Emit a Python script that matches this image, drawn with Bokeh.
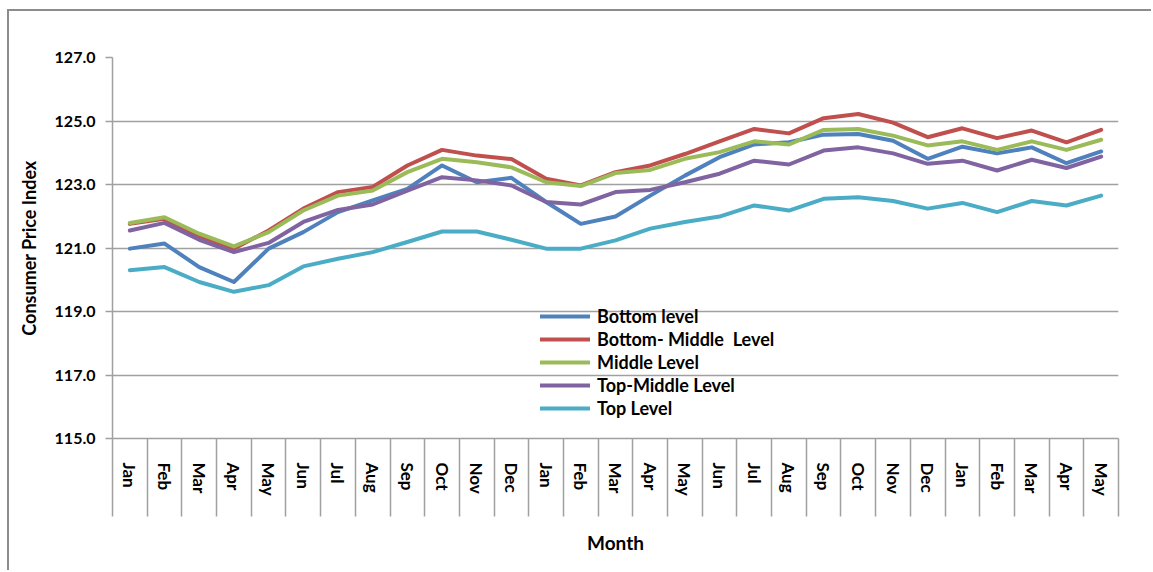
from bokeh.plotting import figure
from bokeh.models import FixedTicker, Range1d, Legend, LegendItem, ColumnDataSource, PrintfTickFormatter
from bokeh.embed import file_html
from bokeh.resources import INLINE

months = ["Jan", "Feb", "Mar", "Apr", "May", "Jun", "Jul", "Aug", "Sep", "Oct", "Nov", "Dec",
          "Jan", "Feb", "Mar", "Apr", "May", "Jun", "Jul", "Aug", "Sep", "Oct", "Nov", "Dec",
          "Jan", "Feb", "Mar", "Apr", "May"]

bottom_level = [120.98, 121.14, 120.40, 119.93, 120.98, 121.50, 122.13, 122.50, 122.86, 123.60, 123.07, 123.21,
                122.45, 121.76, 121.99, 122.65, 123.28, 123.86, 124.26, 124.33, 124.57, 124.59, 124.38, 123.81,
                124.19, 123.98, 124.17, 123.67, 124.04]
bottom_middle_level = [121.76, 121.92, 121.35, 120.98, 121.55, 122.24, 122.76, 122.92, 123.60, 124.09, 123.91, 123.80,
                       123.18, 122.97, 123.39, 123.60, 123.96, 124.36, 124.75, 124.61, 125.09, 125.22, 124.95, 124.49,
                       124.77, 124.46, 124.70, 124.33, 124.72]
middle_level = [121.79, 121.97, 121.45, 121.05, 121.50, 122.18, 122.65, 122.81, 123.39, 123.81, 123.70, 123.54,
                123.07, 122.95, 123.36, 123.46, 123.81, 124.02, 124.36, 124.26, 124.72, 124.75, 124.54, 124.23,
                124.36, 124.09, 124.36, 124.09, 124.41]
top_middle_level = [121.55, 121.79, 121.26, 120.87, 121.16, 121.82, 122.20, 122.37, 122.81, 123.23, 123.13, 122.97,
                    122.45, 122.37, 122.76, 122.83, 123.07, 123.34, 123.75, 123.63, 124.07, 124.17, 123.98, 123.65,
                    123.75, 123.44, 123.78, 123.52, 123.88]
top_level = [120.30, 120.40, 119.93, 119.62, 119.83, 120.42, 120.66, 120.87, 121.19, 121.52, 121.52, 121.26,
             120.98, 120.98, 121.24, 121.61, 121.82, 121.99, 122.34, 122.18, 122.55, 122.60, 122.48, 122.24,
             122.42, 122.13, 122.48, 122.34, 122.65]

series_names = ["Bottom level", "Bottom- Middle  Level", "Middle Level", "Top-Middle Level", "Top Level"]
series_values = [bottom_level, bottom_middle_level, middle_level, top_middle_level, top_level]
series_colors = ["#4F81BD", "#C0504D", "#9BBB59", "#8064A2", "#4BACC6"]

y_ticks = [115, 117, 119, 121, 123, 125, 127]
x_title = "Month"
y_title = "Consumer Price Index"

FONT = "Lato"
GRAY = "#a0a0a0"

xs = list(range(len(months)))

p = figure(width=1144, height=561, output_backend="svg", toolbar_location=None,
           x_range=Range1d(-0.5, len(months) - 0.5), y_range=Range1d(115, 127),
           min_border_left=103, min_border_right=35, min_border_top=46, min_border_bottom=134)
p.styles = {"margin-left": "7px", "margin-top": "9px",
            "border-left": "2px solid #8c8c8c", "border-top": "2px solid #8c8c8c"}
p.outline_line_color = None
p.background_fill_color = "white"
p.border_fill_color = "white"

items = []
for name, vals, col in zip(series_names, series_values, series_colors):
    src = ColumnDataSource(dict(x=xs, y=vals))
    r = p.line("x", "y", source=src, line_color=col, line_width=4, line_join="round", line_cap="round")
    items.append(LegendItem(label=name, renderers=[r]))

# X axis
p.xaxis.ticker = FixedTicker(ticks=xs, minor_ticks=[i - 0.5 for i in range(len(months) + 1)])
p.xaxis.major_label_overrides = {i: m for i, m in enumerate(months)}
p.xaxis.major_label_orientation = "vertical"
p.xaxis.major_tick_out = 0
p.xaxis.major_tick_in = 0
p.xaxis.minor_tick_out = 78
p.xaxis.minor_tick_in = 0
p.xaxis.minor_tick_line_color = GRAY
p.xaxis.minor_tick_line_width = 1.5
p.xaxis.axis_line_color = GRAY
p.xaxis.axis_line_width = 1.5
p.xaxis.major_label_standoff = -54
p.xaxis.major_label_text_font = FONT
p.xaxis.major_label_text_font_size = "17px"
p.xaxis.major_label_text_font_style = "bold"
p.xaxis.major_label_text_color = "black"
p.xaxis.axis_label = x_title
p.xaxis.axis_label_text_font = FONT
p.xaxis.axis_label_text_font_size = "19px"
p.xaxis.axis_label_text_font_style = "bold"
p.xaxis.axis_label_text_color = "black"
p.xaxis.axis_label_standoff = 32

# Y axis
p.yaxis.ticker = FixedTicker(ticks=y_ticks)
p.yaxis.formatter = PrintfTickFormatter(format="%.1f")
p.yaxis.major_tick_out = 7
p.yaxis.major_tick_in = 0
p.yaxis.minor_tick_out = 0
p.yaxis.minor_tick_in = 0
p.yaxis.major_tick_line_color = GRAY
p.yaxis.major_tick_line_width = 1.5
p.yaxis.axis_line_color = GRAY
p.yaxis.axis_line_width = 1.5
p.yaxis.major_label_standoff = 10
p.yaxis.major_label_text_font = FONT
p.yaxis.major_label_text_font_size = "16px"
p.yaxis.major_label_text_font_style = "bold"
p.yaxis.major_label_text_color = "black"
p.yaxis.axis_label = y_title
p.yaxis.axis_label_text_font = FONT
p.yaxis.axis_label_text_font_size = "18px"
p.yaxis.axis_label_text_font_style = "bold"
p.yaxis.axis_label_text_color = "black"
p.yaxis.axis_label_standoff = 12

p.xgrid.visible = False
p.ygrid.ticker = FixedTicker(ticks=y_ticks)
p.ygrid.grid_line_color = GRAY
p.ygrid.grid_line_width = 1.5

legend = Legend(items=items, location=(428, 19))
legend.background_fill_alpha = 0
legend.border_line_alpha = 0
legend.label_text_font = FONT
legend.label_text_font_size = "18px"
legend.label_text_font_style = "bold"
legend.label_text_color = "black"
legend.glyph_width = 50
legend.glyph_height = 22
legend.label_height = 22
legend.spacing = 1
legend.padding = 0
legend.margin = 0
legend.label_standoff = 7
p.add_layout(legend)

open("out.html", "w").write(file_html(p, INLINE))
